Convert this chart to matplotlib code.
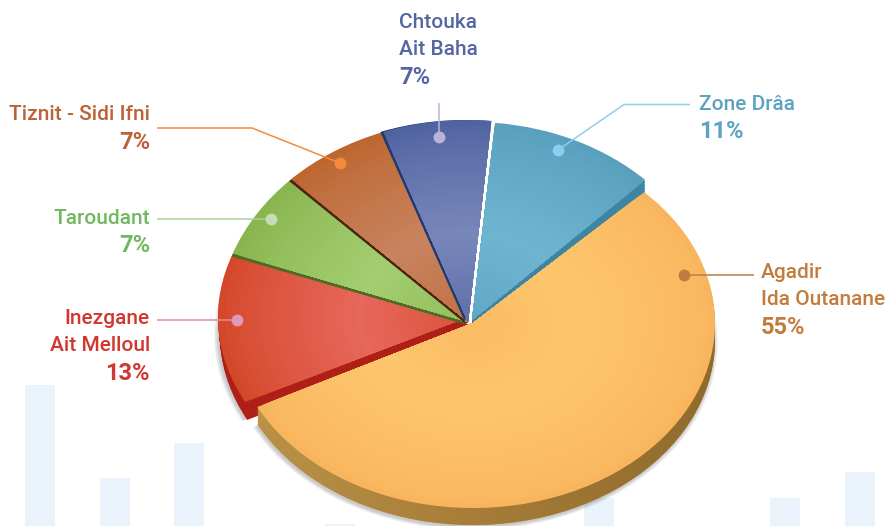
import matplotlib
matplotlib.use("Agg")
import matplotlib.pyplot as plt
from matplotlib.colors import to_rgb, LinearSegmentedColormap
from matplotlib.transforms import Affine2D
import numpy as np

# slice data, clockwise from the Agadir wedge
names = ["Agadir\nIda Outanane", "Inezgane\nAit Melloul", "Taroudant",
         "Tiznit - Sidi Ifni", "Chtouka\nAit Baha", "Zone Drâa"]
shares = [55, 13, 7, 7, 7, 11]
rim_colors = ["#f9b55e", "#d4482a", "#89b54f", "#bd6630", "#4f63a0", "#58a0be"]
mid_colors = ["#fdc66d", "#e6675b", "#a2ce70", "#c8835f", "#7887ba", "#6fb5d2"]
wall_colors = ["#bb9347", "#ae1f17", "#4f6a24", "#4a2410", "#1f3a6e", "#3c86a4"]
text_colors = ["#c27c3d", "#d1372f", "#72b85f", "#bb6236", "#5566a3", "#5da2c0"]
line_colors = ["#c07c3f", "#e887a8", "#a8d29b", "#f58a3c", "#b9b3d9", "#8ecfee"]
dot_colors = ["#c07c3f", "#e09ab9", "#c5dcb5", "#f58a3c", "#b9b3d9", "#8ccdf0"]

# faint bars behind the pie
bar_lefts = [25, 100, 174, 325, 584, 770, 845]
bar_heights = [141, 48, 83, 2, 28, 28, 54]

W, H = 886, 526
START = 45
FONT = "Roboto"

# per slice ellipse: centre x, centre y (from top), rx, ry
shape = [(473, 323, 242, 185), (468, 317, 250, 187), (468, 322, 250, 202),
         (468, 322, 250, 202), (468, 322, 250, 202), (472, 320, 245, 198)]
# wall offset under each slice
wall_dx = [0, 2, -1, -2, -3, 0]
wall_dy = [17, 18, 3, 2, 0, 14]
# stacking order of each slice, later on top
stack = [60, 10, 20, 30, 40, 50]

fig = plt.figure(figsize=(W / 100, H / 100), dpi=100)
ax = fig.add_axes([0, 0, 1, 1])


def draw_layer(colors, radius, z, dx=None, dy=None, only=None, alpha=None):
    wedges, _ = ax.pie(shares, colors=colors, radius=radius, startangle=START,
                       counterclock=False, wedgeprops=dict(linewidth=0))
    for i, w in enumerate(wedges):
        if only is not None and i not in only:
            w.remove()
            continue
        cx, cy, rx, ry = shape[i]
        ox = dx[i] if dx else 0
        oy = dy[i] if dy else 0
        w.set_transform(Affine2D().scale(rx, ry).translate(cx + ox, H - cy - oy) + ax.transData)
        w.set_zorder(stack[i] + z)
        if alpha is not None:
            w.set_alpha(alpha)
    return wedges


def profile(r):
    # brightest a bit inside the middle of the slice
    if r > 0.45:
        return ((1 - r) / 0.55) ** 0.8
    return 0.35 + 0.65 * r / 0.45


# background bars
ax.bar(bar_lefts, bar_heights, width=30, align="edge", color="#eaf3fb", linewidth=0, zorder=0.5)

# soft shadow round the lower rim
for k in range(5):
    draw_layer(["#555555"] * 6, 1 + (4 - k) * 0.004, -9.9 + k * 0.01, dx=[-1, 0, 0, 0, 0, 1], dy=[19, 18, 0, 0, 0, 0],
               only=[0, 1], alpha=0.07)

# walls: extrude the slices that show depth, so no holes are left
for f in np.linspace(0.1, 0.9, 9):
    draw_layer(wall_colors, 1, -0.5 + f * 0.1,
               dx=[v * f for v in wall_dx], dy=[v * f for v in wall_dy], only=[0, 1, 5])
walls = draw_layer(wall_colors, 1, 0, dx=wall_dx, dy=wall_dy)

# the Agadir wall darkens towards the right
wall_cmap = LinearSegmentedColormap.from_list("wall", ["#bb9347", "#a67c38", "#8f6b2c"])
grad = ax.imshow(np.linspace(0, 1, 256).reshape(1, -1), cmap=wall_cmap, aspect="auto",
                 extent=(240, 720, 0, 340), zorder=stack[0] + 0.5)
grad.set_clip_path(walls[0])

radii = np.linspace(1, 0.03, 36)
for n, r in enumerate(radii):
    t = profile(r)
    cols = [tuple((1 - t) * np.array(to_rgb(a)) + t * np.array(to_rgb(b)))
            for a, b in zip(rim_colors, mid_colors)]
    draw_layer(cols, r, 1 + n * 0.01)

# leader lines and dots
leader_x = [[684, 754], [157, 237], [157, 271], [157, 252, 340], [439, 439], [690, 624, 558]]
leader_y = [[275, 275], [320, 320], [219, 219], [128, 128, 163], [103, 137], [104.5, 104.5, 150]]
for xs, ys, lc, dc in zip(leader_x, leader_y, line_colors, dot_colors):
    yy = [H - v for v in ys]
    ax.plot(xs, yy, color=lc, lw=1.1, zorder=100, solid_capstyle="butt")
    dot = (xs[0], yy[0]) if lc == line_colors[0] else (xs[-1], yy[-1])
    ax.plot([dot[0]], [dot[1]], "o", ms=8.5, color=dc, mew=0, zorder=101)

# labels
label_x = [761, 150, 150, 150, 399, 699]
label_ha = ["left", "right", "right", "right", "left", "left"]
label_top = [272, 318, 218, 115, 22, 104]
for name, share, x, ha, top, c in zip(names, shares, label_x, label_ha, label_top, text_colors):
    lines = name.split("\n")
    for j, s in enumerate(lines):
        ax.text(x, H - (top + j * 27.5), s, ha=ha, va="center", color=c,
                fontsize=15, family=FONT, fontweight=500, zorder=110)
    ax.text(x, H - (top + len(lines) * 27.5), f"{share}%", ha=ha, va="center", color=c,
            fontsize=17, family=FONT, fontweight="bold", zorder=110)

ax.set_aspect("auto")
ax.set_xlim(0, W)
ax.set_ylim(0, H)
ax.axis("off")

fig.savefig("out.png", dpi=100)
